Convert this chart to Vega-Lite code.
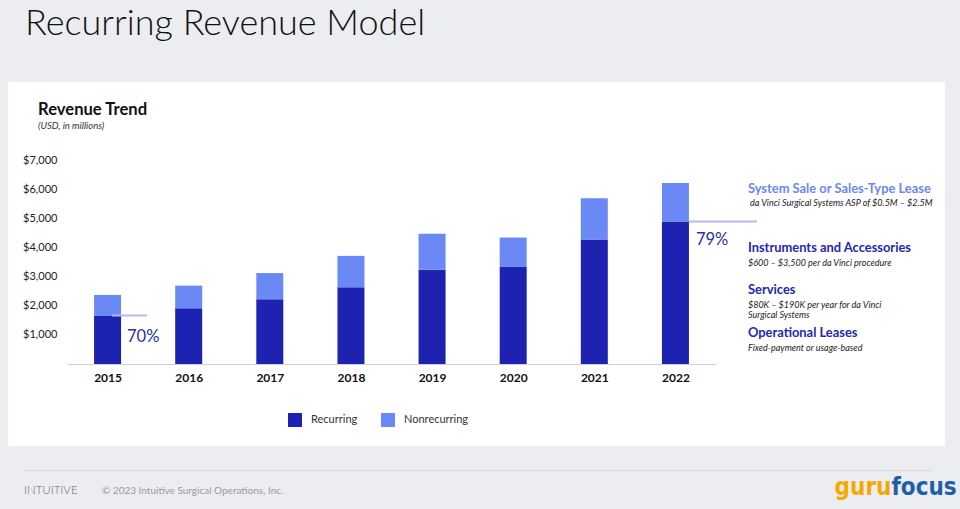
{
  "$schema": "https://vega.github.io/schema/vega-lite/v6.json",
  "width": 937,
  "height": 364,
  "autosize": {"type": "none"},
  "padding": {"left": 8, "top": 82, "right": 15, "bottom": 63},
  "background": "#ecedf1",
  "view": {"fill": "white", "stroke": null},
  "config": {"font": "Lato"},
  "layer": [
    {
      "data": {"values": [
        {"year": 2015, "type": "Recurring", "revenue": 1660},
        {"year": 2015, "type": "Nonrecurring", "revenue": 710},
        {"year": 2016, "type": "Recurring", "revenue": 1910},
        {"year": 2016, "type": "Nonrecurring", "revenue": 780},
        {"year": 2017, "type": "Recurring", "revenue": 2220},
        {"year": 2017, "type": "Nonrecurring", "revenue": 900},
        {"year": 2018, "type": "Recurring", "revenue": 2630},
        {"year": 2018, "type": "Nonrecurring", "revenue": 1080},
        {"year": 2019, "type": "Recurring", "revenue": 3230},
        {"year": 2019, "type": "Nonrecurring", "revenue": 1240},
        {"year": 2020, "type": "Recurring", "revenue": 3330},
        {"year": 2020, "type": "Nonrecurring", "revenue": 1010},
        {"year": 2021, "type": "Recurring", "revenue": 4270},
        {"year": 2021, "type": "Nonrecurring", "revenue": 1420},
        {"year": 2022, "type": "Recurring", "revenue": 4890},
        {"year": 2022, "type": "Nonrecurring", "revenue": 1320}
      ]},
      "mark": {"type": "bar", "width": 27},
      "encoding": {
        "x": {
          "field": "year", "type": "quantitative",
          "scale": {"domain": [2014.5, 2022.5], "range": [59, 708], "nice": false, "zero": false, "padding": 0},
          "axis": {"values": [2015, 2016, 2017, 2018, 2019, 2020, 2021, 2022], "format": "d", "title": null, "offset": -82, "ticks": false, "grid": false, "domainColor": "#cfd0d6", "domainWidth": 1.2, "labelFontSize": 12, "labelFontWeight": "bold", "labelColor": "#111", "labelPadding": 8, "labelFlush": false}
        },
        "y": {
          "field": "revenue", "type": "quantitative", "stack": "zero",
          "scale": {"domain": [0, 7000], "range": [282, 78], "nice": false, "padding": 0},
          "axis": {"values": [1000, 2000, 3000, 4000, 5000, 6000, 7000], "format": "$,d", "title": null, "offset": -59, "ticks": false, "domain": false, "grid": false, "labelFontSize": 11, "labelColor": "#222", "labelPadding": 10}
        },
        "color": {
          "field": "type", "type": "nominal",
          "scale": {"domain": ["Recurring", "Nonrecurring"], "range": ["#1d22b1", "#6a89f5"]},
          "legend": {"title": null, "orient": "none", "legendX": 280, "legendY": 331, "direction": "horizontal", "symbolType": "square", "symbolSize": 196, "symbolStrokeWidth": 0, "symbolOpacity": 1, "labelFontSize": 11, "labelColor": "#333", "labelOffset": 9, "columnPadding": 23, "padding": 0}
        },
        "order": {"field": "type", "sort": "descending"}
      }
    },
    {
      "data": {"values": [{"label": "Recurring Revenue Model"}]},
      "mark": {"type": "text", "align": "left", "baseline": "alphabetic", "fontSize": 36, "fontWeight": 300, "color": "#111"},
      "encoding": {"x": {"datum": 2013.982}, "y": {"datum": 11289}, "text": {"field": "label"}}
    },
    {
      "data": {"values": [{"label": "Revenue Trend"}]},
      "mark": {"type": "text", "align": "left", "baseline": "alphabetic", "fontSize": 16.6, "fontWeight": "bold", "color": "#111"},
      "encoding": {"x": {"datum": 2014.143}, "y": {"datum": 8544}, "text": {"field": "label"}}
    },
    {
      "data": {"values": [{"label": "(USD, in millions)"}]},
      "mark": {"type": "text", "align": "left", "baseline": "alphabetic", "fontSize": 9.5, "fontStyle": "italic", "color": "#333"},
      "encoding": {"x": {"datum": 2014.143}, "y": {"datum": 8050}, "text": {"field": "label"}}
    },
    {
      "data": {"values": [{"share": "70%"}]},
      "mark": {"type": "rule", "color": "#b5baec", "strokeWidth": 2},
      "encoding": {"x": {"datum": 2015.055}, "x2": {"datum": 2015.486}, "y": {"datum": 1660}}
    },
    {
      "data": {"values": [{"share": "79%"}]},
      "mark": {"type": "rule", "color": "#b5baec", "strokeWidth": 2},
      "encoding": {"x": {"datum": 2022.167}, "x2": {"datum": 2023.005}, "y": {"datum": 4890}}
    },
    {
      "data": {"values": [{"share": "70%"}]},
      "mark": {"type": "text", "align": "left", "baseline": "alphabetic", "fontSize": 16.5, "fontWeight": "normal", "color": "#2a2fb3"},
      "encoding": {"x": {"datum": 2015.24}, "y": {"datum": 765}, "text": {"field": "share"}}
    },
    {
      "data": {"values": [{"share": "79%"}]},
      "mark": {"type": "text", "align": "left", "baseline": "alphabetic", "fontSize": 16.5, "fontWeight": "normal", "color": "#2a2fb3"},
      "encoding": {"x": {"datum": 2022.253}, "y": {"datum": 4083}, "text": {"field": "share"}}
    },
    {
      "data": {"values": [{"label": "System Sale or Sales-Type Lease"}]},
      "mark": {"type": "text", "align": "left", "baseline": "alphabetic", "fontSize": 12.9, "fontWeight": "bold", "color": "#6b88f2"},
      "encoding": {"x": {"datum": 2022.894}, "y": {"datum": 5878}, "text": {"field": "label"}}
    },
    {
      "data": {"values": [{"label": "da Vinci Surgical Systems ASP of $0.5M – $2.5M"}]},
      "mark": {"type": "text", "align": "left", "baseline": "alphabetic", "fontSize": 9, "fontStyle": "italic", "color": "#222"},
      "encoding": {"x": {"datum": 2022.919}, "y": {"datum": 5422}, "text": {"field": "label"}}
    },
    {
      "data": {"values": [{"label": "Instruments and Accessories"}]},
      "mark": {"type": "text", "align": "left", "baseline": "alphabetic", "fontSize": 12.9, "fontWeight": "bold", "color": "#2327b3"},
      "encoding": {"x": {"datum": 2022.894}, "y": {"datum": 3833}, "text": {"field": "label"}}
    },
    {
      "data": {"values": [{"label": "$600 –  $3,500 per da Vinci procedure"}]},
      "mark": {"type": "text", "align": "left", "baseline": "alphabetic", "fontSize": 9, "fontStyle": "italic", "color": "#222"},
      "encoding": {"x": {"datum": 2022.894}, "y": {"datum": 3373}, "text": {"field": "label"}}
    },
    {
      "data": {"values": [{"label": "Services"}]},
      "mark": {"type": "text", "align": "left", "baseline": "alphabetic", "fontSize": 12.9, "fontWeight": "bold", "color": "#2327b3"},
      "encoding": {"x": {"datum": 2022.894}, "y": {"datum": 2402}, "text": {"field": "label"}}
    },
    {
      "data": {"values": [{"label": "$80K –  $190K per year for da Vinci"}]},
      "mark": {"type": "text", "align": "left", "baseline": "alphabetic", "fontSize": 9, "fontStyle": "italic", "color": "#222"},
      "encoding": {"x": {"datum": 2022.894}, "y": {"datum": 1932}, "text": {"field": "label"}}
    },
    {
      "data": {"values": [{"label": "Surgical Systems"}]},
      "mark": {"type": "text", "align": "left", "baseline": "alphabetic", "fontSize": 9, "fontStyle": "italic", "color": "#222"},
      "encoding": {"x": {"datum": 2022.894}, "y": {"datum": 1589}, "text": {"field": "label"}}
    },
    {
      "data": {"values": [{"label": "Operational Leases"}]},
      "mark": {"type": "text", "align": "left", "baseline": "alphabetic", "fontSize": 12.9, "fontWeight": "bold", "color": "#2327b3"},
      "encoding": {"x": {"datum": 2022.894}, "y": {"datum": 937}, "text": {"field": "label"}}
    },
    {
      "data": {"values": [{"label": "Fixed-payment or usage-based"}]},
      "mark": {"type": "text", "align": "left", "baseline": "alphabetic", "fontSize": 9, "fontStyle": "italic", "color": "#222"},
      "encoding": {"x": {"datum": 2022.894}, "y": {"datum": 446}, "text": {"field": "label"}}
    },
    {
      "data": {"values": [{"label": "divider"}]},
      "mark": {"type": "rule", "color": "#dcdde3", "strokeWidth": 1.5},
      "encoding": {"x": {"datum": 2013.97}, "x2": {"datum": 2025.175}, "y": {"datum": -3654}}
    },
    {
      "data": {"values": [{"label": "INTUITIVE"}]},
      "mark": {"type": "text", "align": "left", "baseline": "alphabetic", "fontSize": 11.5, "fontWeight": 300, "color": "#6a6a6a"},
      "encoding": {"x": {"datum": 2013.97}, "y": {"datum": -4461}, "text": {"field": "label"}}
    },
    {
      "data": {"values": [{"label": "© 2023 Intuitive Surgical Operations, Inc."}]},
      "mark": {"type": "text", "align": "left", "baseline": "alphabetic", "fontSize": 10, "color": "#9a9a9a"},
      "encoding": {"x": {"datum": 2014.931}, "y": {"datum": -4461}, "text": {"field": "label"}}
    },
    {
      "data": {"values": [{"label": "guru"}]},
      "mark": {"type": "text", "align": "right", "baseline": "alphabetic", "fontSize": 24, "fontWeight": "bold", "font": "Liberation Sans Narrow, DejaVu Sans Condensed, sans-serif", "color": "#f5a800"},
      "encoding": {"x": {"datum": 2024.663}, "y": {"datum": -4495}, "text": {"field": "label"}}
    },
    {
      "data": {"values": [{"label": "focus"}]},
      "mark": {"type": "text", "align": "left", "baseline": "alphabetic", "fontSize": 24, "fontWeight": "bold", "font": "Liberation Sans Narrow, DejaVu Sans Condensed, sans-serif", "color": "#1f5fa9"},
      "encoding": {"x": {"datum": 2024.663}, "y": {"datum": -4495}, "text": {"field": "label"}}
    }
  ]
}
